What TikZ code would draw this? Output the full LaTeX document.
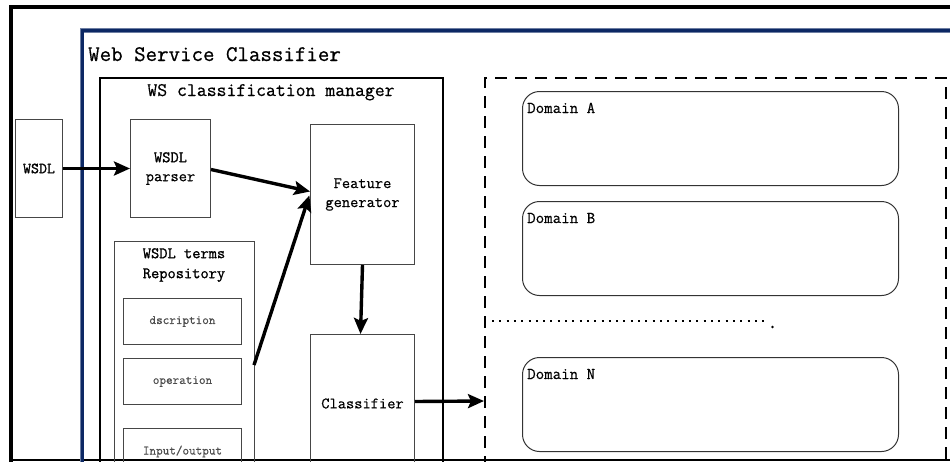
\documentclass[tikz,border=0pt]{standalone}
\usepackage{fontspec}
\newfontfamily\simf{Latin Modern Mono}[FakeBold=0.6]
\newfontfamily\simb{Latin Modern Mono}[FakeBold=1.2]
\usetikzlibrary{arrows.meta}
\definecolor{navy}{RGB}{12,40,100}
\definecolor{boxgray}{RGB}{70,70,70}
\tikzset{
  box/.style={draw=boxgray, line width=1pt, anchor=north west, inner sep=0pt, align=center, font=\simf\fontsize{16}{19}\selectfont},
  small/.style={box, font=\simf\fontsize{12.8}{15}\selectfont\color{black!70}},
  dom/.style={draw=black!80, line width=1pt, rounded corners=17pt, anchor=north west, minimum width=376pt, minimum height=94pt},
  domtxt/.style={anchor=base west, inner sep=0pt, font=\simf\fontsize{16.5}{18}\selectfont},
  arr/.style={line width=3.4pt, -{Stealth[length=16pt,width=14pt,inset=3pt]}},
}
\begin{document}
\begin{tikzpicture}[x=1pt,y=-1pt]
\useasboundingbox (0,0) rectangle (950,461);
\clip (0,0) rectangle (950,461);
% outer frame
\draw[line width=4pt] (11,470) -- (11,6.5) -- (960,6.5);
\draw[line width=1.5pt] (11,459.8) -- (960,459.8);
% web service classifier frame
\draw[navy!60, line width=4.5pt] (82,470) -- (82,30.5) -- (960,30.5);
\draw[navy, line width=3pt] (82,470) -- (82,30.5) -- (960,30.5);
\node[anchor=base west, inner sep=0pt, font=\simf\fontsize{22.3}{24}\selectfont] (wsc) at (88,61) {Web Service Classifier};
% manager
\node[draw, line width=1.5pt, anchor=north west, minimum width=343pt, minimum height=420pt] (mgr) at (99,77) {};
\node[anchor=base, inner sep=0pt, font=\simf\fontsize{19.2}{22}\selectfont] (mgrt) at (271,96) {WS classification manager};
% WSDL input
\node[box, font=\simb\fontsize{15.5}{19}\selectfont, minimum width=47pt, minimum height=98pt] (wsdl) at (15,119) {WSDL};
\node[box, minimum width=80pt, minimum height=98pt] (parser) at (130,119) {{\simb WSDL}\\parser};
\node[box, minimum width=104pt, minimum height=140pt] (feature) at (310,124) {Feature\\generator};
\node[box, minimum width=104pt, minimum height=138pt] (classifier) at (310,334) {Classifier};
% repository
\node[box, minimum width=140pt, minimum height=260pt] (repo) at (114,241) {};
\node[anchor=north, inner sep=0pt, align=center, font=\simb\fontsize{16}{20}\selectfont] (repot) at (184,248) {WSDL terms\\Repository};
\node[small, minimum width=118pt, minimum height=46pt] (dscr) at (123,298) {dscription};
\node[small, minimum width=118pt, minimum height=46pt] (oper) at (123,358) {operation};
\node[small, minimum width=118pt, minimum height=46pt] (io) at (123,428) {Input/output};
% domain area
\node[draw, line width=2pt, dash pattern=on 12pt off 8pt, anchor=north west, minimum width=461pt, minimum height=420pt] (dbox) at (484,77) {};
\node[dom] (da) at (522,91) {};
\node[domtxt] (dat) at (527,113) {Domain A};
\node[dom] (db) at (522,201) {};
\node[domtxt] (dbt) at (527,223) {Domain B};
\node[dom] (dn) at (522,357) {};
\node[domtxt] (dnt) at (527,379) {Domain N};
\coordinate (dl1) at (492,321);
\coordinate (dl2) at (769,321);
\draw[line width=2pt, dash pattern=on 2pt off 5.3pt] (dl1) -- (dl2);
\fill (772.5,327) circle (1.3pt);
% arrows
\coordinate (rs) at (254,365);
\coordinate (din) at (484,401);
\draw[arr] (wsdl.east) -- (parser.west);
\draw[arr] ([yshift=-1pt]parser.east) -- ([yshift=3pt]feature.west);
\draw[arr, shorten >=2pt] (rs) -- ([yshift=1pt]feature.west);
\draw[arr] (feature.south) -- ([xshift=-2pt]classifier.north);
\draw[arr] ([yshift=2pt]classifier.east) -- (din);
\end{tikzpicture}
\end{document}
